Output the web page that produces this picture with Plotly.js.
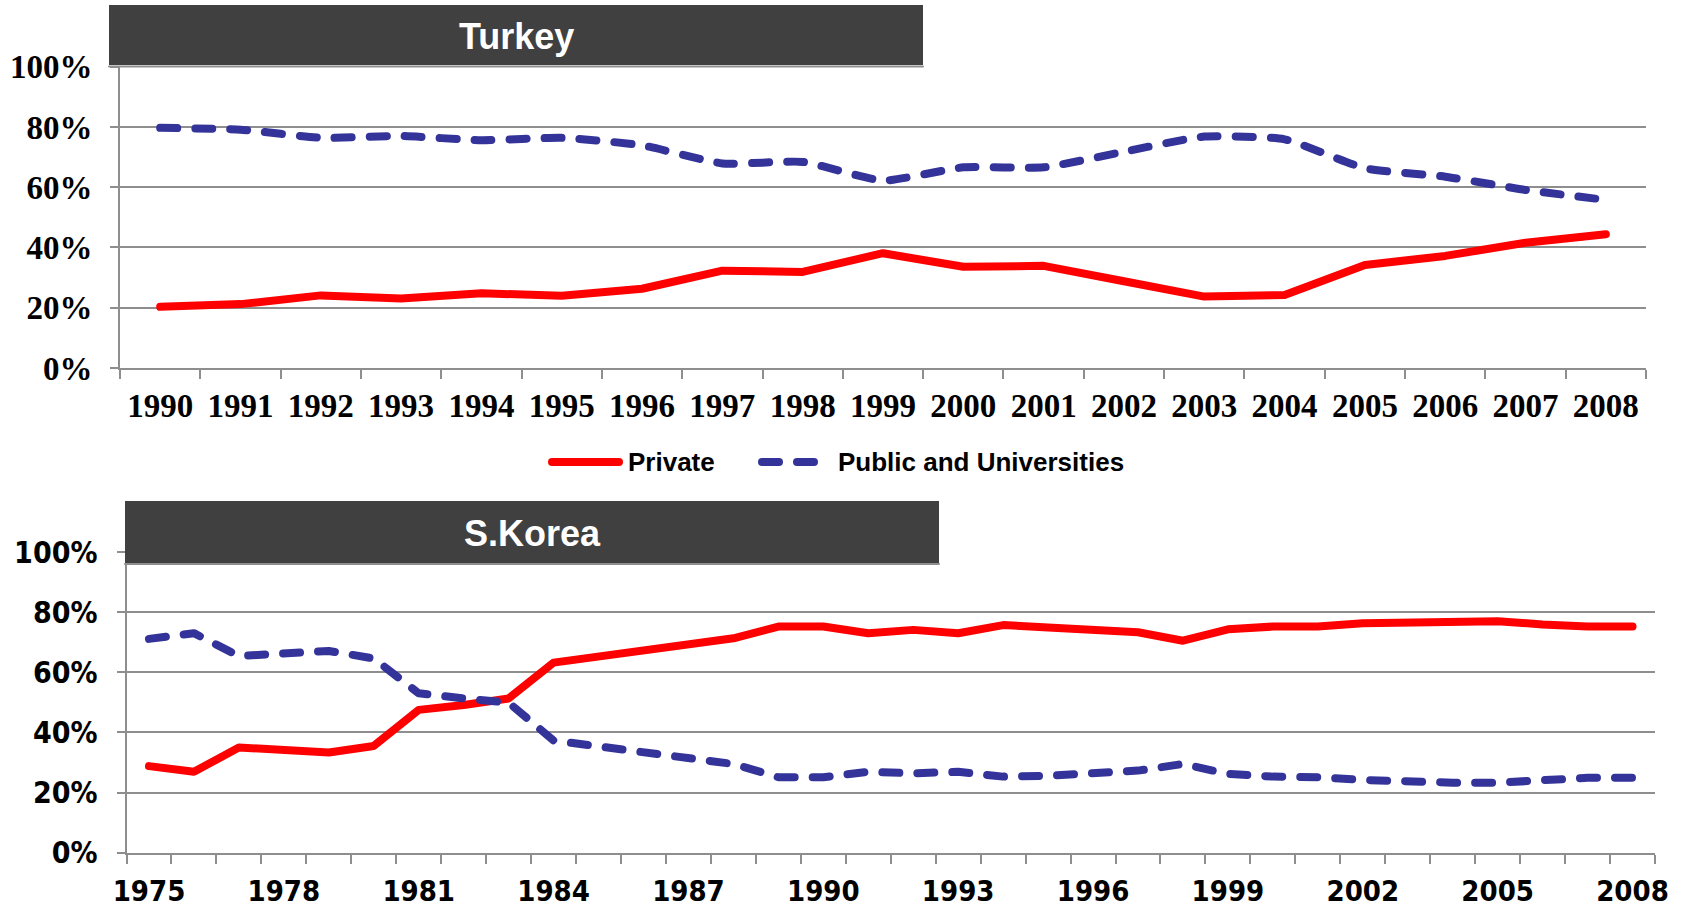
<!DOCTYPE html>
<html>
<head>
<meta charset="utf-8">
<script src="https://cdn.plot.ly/plotly-3.0.1.min.js"></script>
<style>
html, body { margin: 0; padding: 0; background: #ffffff; }
#chart { width: 1685px; height: 907px; }
.js-line, .shapelayer path { stroke-linecap: round; stroke-linejoin: round; }
</style>
</head>
<body>
<div id="chart"></div>
<script>
// ---------- data ----------
const panelTitles = ['Turkey', 'S.Korea'];
const seriesNames = ['Private', 'Public and Universities'];

const turkeyYears = [1990, 1991, 1992, 1993, 1994, 1995, 1996, 1997, 1998, 1999,
                     2000, 2001, 2002, 2003, 2004, 2005, 2006, 2007, 2008];
const turkeyPrivate = [20.3, 21.2, 24.1, 23.1, 24.8, 24.0, 26.3, 32.3, 31.9, 38.1,
                       33.6, 33.9, 28.8, 23.7, 24.2, 34.2, 37.2, 41.6, 44.4];
const turkeyPublic = [79.7, 79.1, 76.4, 77.0, 75.6, 76.4, 73.9, 67.9, 68.4, 62.2,
                      66.6, 66.6, 71.8, 76.8, 75.9, 66.3, 63.5, 59.1, 55.8];

const koreaYears = [1975, 1976, 1977, 1978, 1979, 1980, 1981, 1982, 1983, 1984,
                    1985, 1986, 1987, 1988, 1989, 1990, 1991, 1992, 1993, 1994,
                    1995, 1996, 1997, 1998, 1999, 2000, 2001, 2002, 2003, 2004,
                    2005, 2006, 2007, 2008];
const koreaPrivate = [28.8, 26.9, 35.0, 34.1, 33.3, 35.5, 47.5, 49.1, 51.3, 63.2,
                      65.2, 67.4, 69.3, 71.3, 75.2, 75.2, 73.0, 74.1, 73.0, 75.7,
                      74.9, 74.4, 73.3, 70.5, 74.3, 75.2, 75.2, 76.3, 76.7, 77.2,
                      77.0, 75.9, 75.2, 75.2];
const koreaPublic = [71.1, 73.0, 65.4, 66.0, 67.1, 64.6, 53.0, 51.3, 49.9, 37.3,
                     35.3, 33.0, 31.4, 29.5, 25.1, 25.1, 26.9, 26.4, 26.9, 25.3,
                     25.6, 26.2, 27.3, 29.5, 26.2, 25.3, 25.1, 24.2, 23.6, 23.3,
                     23.3, 24.4, 24.9, 24.9];
const koreaTickYears = [1975, 1978, 1981, 1984, 1987, 1990, 1993, 1996, 1999, 2002, 2005, 2008];
const yTickVals = [0, 20, 40, 60, 80, 100];
const yTickLabels = ['0%', '20%', '40%', '60%', '80%', '100%'];

// ---------- styling / layout helpers ----------
const W = 1685, H = 907;
const px = v => v / W;
const py = v => 1 - v / H;
const RED = '#ff0000', BLUE = '#333399', GRID = '#8e8e8e', BOX = '#404040';
const DASH = '17px,18px';

const serifBold = {family: "'Liberation Serif', 'Times New Roman', serif", size: 33, color: '#000', weight: 700};
const sansBoldX = {family: "'DejaVu Sans Condensed', 'DejaVu Sans', sans-serif", size: 29, color: '#000', weight: 700};
const sansBoldY = {family: "'DejaVu Sans Condensed', 'DejaVu Sans', sans-serif", size: 30, color: '#000', weight: 700};
const arialBold = {family: "'Liberation Sans', Arial, sans-serif", weight: 700};

const traces = [
  {x: turkeyYears, y: turkeyPrivate, name: seriesNames[0], type: 'scatter', mode: 'lines',
   line: {color: RED, width: 8}, xaxis: 'x', yaxis: 'y', showlegend: false, hoverinfo: 'skip'},
  {x: turkeyYears, y: turkeyPublic, name: seriesNames[1], type: 'scatter', mode: 'lines',
   line: {color: BLUE, width: 8, dash: DASH, shape: 'spline', smoothing: 0.5}, xaxis: 'x', yaxis: 'y', showlegend: false, hoverinfo: 'skip'},
  {x: koreaYears, y: koreaPrivate, name: seriesNames[0], type: 'scatter', mode: 'lines',
   line: {color: RED, width: 8}, xaxis: 'x2', yaxis: 'y2', showlegend: false, hoverinfo: 'skip'},
  {x: koreaYears, y: koreaPublic, name: seriesNames[1], type: 'scatter', mode: 'lines',
   line: {color: BLUE, width: 8, dash: DASH}, xaxis: 'x2', yaxis: 'y2', showlegend: false, hoverinfo: 'skip'}
];

function xAxis(domain, years, tickvals, font, anchor, standoff) {
  return {
    domain: domain, anchor: anchor,
    range: [years[0] - 0.5, years[years.length - 1] + 0.5],
    tickmode: 'array', tickvals: tickvals,
    ticks: 'outside', ticklen: 0, tickcolor: GRID, tickwidth: 2,
    minor: {tickmode: 'linear', tick0: years[0] - 0.5, dtick: 1, ticks: 'outside', ticklen: 9, tickcolor: GRID, tickwidth: 2, showgrid: false},
    showline: true, linecolor: GRID, linewidth: 2,
    showgrid: false, zeroline: false, fixedrange: true,
    tickfont: font, ticklabelstandoff: standoff
  };
}
function yAxis(domain, font, anchor, standoff) {
  return {
    domain: domain, anchor: anchor,
    range: [0, 100], tickmode: 'array', tickvals: yTickVals, ticktext: yTickLabels,
    ticks: 'outside', ticklen: 8, tickcolor: GRID, tickwidth: 2,
    showline: true, linecolor: GRID, linewidth: 2,
    showgrid: true, gridcolor: GRID, gridwidth: 2, zeroline: false, fixedrange: true,
    tickfont: font, ticklabelstandoff: standoff
  };
}

const layout = {
  width: W, height: H,
  margin: {l: 0, r: 0, t: 0, b: 0, pad: 0},
  paper_bgcolor: '#ffffff', plot_bgcolor: '#ffffff',
  showlegend: false,
  xaxis: xAxis([px(120), px(1646)], turkeyYears, turkeyYears, serifBold, 'y', 7),
  yaxis: yAxis([py(368), py(66.7)], serifBold, 'x', 11),
  xaxis2: xAxis([px(126.5), px(1655)], koreaYears, koreaTickYears, sansBoldX, 'y2', 11),
  yaxis2: yAxis([py(852.7), py(552)], sansBoldY, 'x2', 13),
  shapes: [
    // panel title boxes
    {type: 'rect', xref: 'paper', yref: 'paper', x0: px(109), x1: px(923), y0: py(65), y1: py(5),
     fillcolor: BOX, line: {width: 0}, layer: 'above'},
    {type: 'line', xref: 'paper', yref: 'paper', x0: px(109), x1: px(923), y0: py(66.5), y1: py(66.5),
     line: {color: GRID, width: 2}, layer: 'above'},
    {type: 'rect', xref: 'paper', yref: 'paper', x0: px(125), x1: px(939), y0: py(563), y1: py(501),
     fillcolor: BOX, line: {width: 0}, layer: 'above'},
    {type: 'line', xref: 'paper', yref: 'paper', x0: px(125), x1: px(939), y0: py(564), y1: py(564),
     line: {color: GRID, width: 2}, layer: 'above'},
    // legend keys
    {type: 'line', xref: 'paper', yref: 'paper', x0: px(552), x1: px(619), y0: py(462), y1: py(462),
     line: {color: RED, width: 8}, layer: 'above'},
    {type: 'line', xref: 'paper', yref: 'paper', x0: px(762), x1: px(814), y0: py(462), y1: py(462),
     line: {color: BLUE, width: 8, dash: DASH}, layer: 'above'}
  ],
  annotations: [
    {xref: 'paper', yref: 'paper', x: px(516), y: py(37), text: panelTitles[0], showarrow: false,
     xanchor: 'center', yanchor: 'middle', font: Object.assign({}, arialBold, {size: 36, color: '#ffffff'})},
    {xref: 'paper', yref: 'paper', x: px(532), y: py(533), text: panelTitles[1], showarrow: false,
     xanchor: 'center', yanchor: 'middle', font: Object.assign({}, arialBold, {size: 36, color: '#ffffff'})},
    {xref: 'paper', yref: 'paper', x: px(626), y: py(462), text: seriesNames[0], showarrow: false,
     xanchor: 'left', yanchor: 'middle', font: Object.assign({}, arialBold, {size: 26, color: '#000000'})},
    {xref: 'paper', yref: 'paper', x: px(836), y: py(462), text: seriesNames[1], showarrow: false,
     xanchor: 'left', yanchor: 'middle', font: Object.assign({}, arialBold, {size: 26, color: '#000000'})}
  ]
};

Plotly.newPlot('chart', traces, layout, {staticPlot: true, displayModeBar: false});
</script>
</body>
</html>
